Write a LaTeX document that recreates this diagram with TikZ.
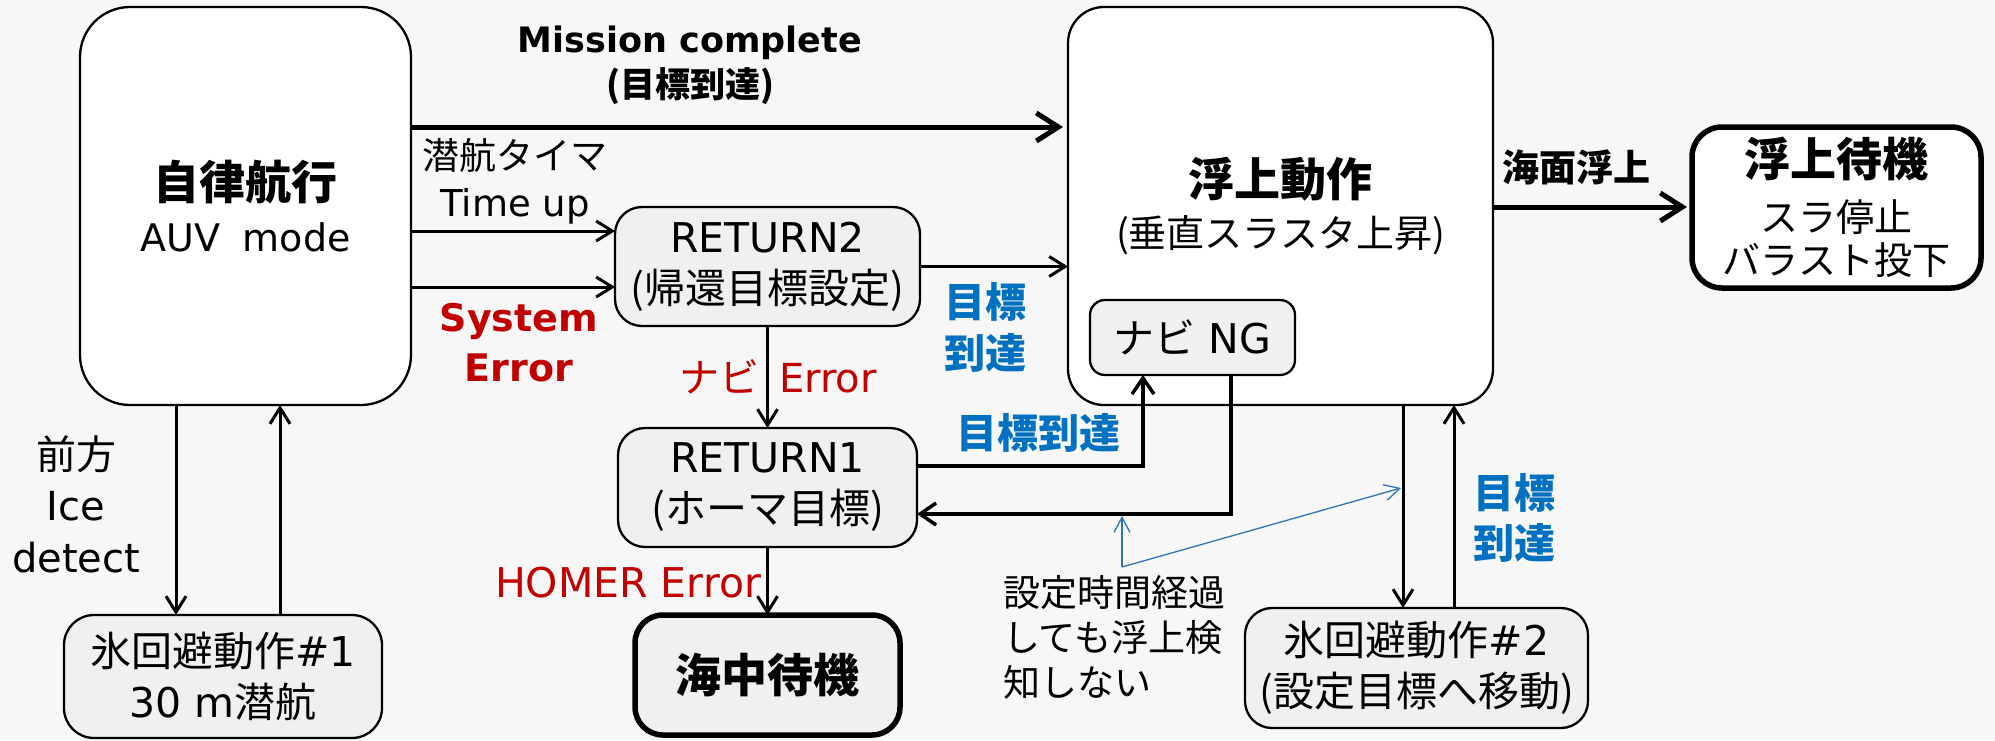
\documentclass[tikz,border=0pt]{standalone}
\usepackage{fontspec}
\setmainfont{DejaVu Sans}
\newfontfamily\jp{Noto Sans CJK JP}
\usetikzlibrary{arrows.meta}
\definecolor{bgcol}{HTML}{F7F7F7}
\definecolor{boxgray}{HTML}{F0F0F0}
\definecolor{errred}{HTML}{C00000}
\definecolor{okblue}{HTML}{0070C0}
\definecolor{noteblue}{HTML}{2E75B6}
\newcommand\fsz[2]{\fontsize{#1pt}{#2pt}\selectfont}
\begin{document}
\begin{tikzpicture}[x=1pt,y=-1pt,
  every node/.style={inner sep=0pt, outer sep=0pt},
  whitebox/.style={draw, line width=2.3pt, fill=white, align=center},
  graybox/.style={draw, line width=2.3pt, fill=boxgray, rounded corners=27pt, align=center, font=\fsz{41}{51}, minimum height=119pt},
  thickbox/.style={draw, line width=5.5pt, align=center},
  lbl/.style={align=center},
  arr/.style={line width=3pt, -{Straight Barb[length=16pt,width=20pt]}},
  medarr/.style={line width=3.5pt, -{Straight Barb[length=16pt,width=22pt]}},
  thickarr/.style={line width=5pt, shorten >=5pt, -{Straight Barb[length=22pt,width=28pt]}},
  notearr/.style={draw=noteblue, line width=1.3pt, -{Straight Barb[length=15pt,width=16pt]}}
]
\fill[bgcol] (0,0) rectangle (1995,740);
\useasboundingbox (0,0) rectangle (1995,740);

% main boxes
\node[whitebox, rounded corners=50pt, minimum width=331pt, minimum height=398pt, font=\fsz{38}{52}] (auto) at (245.5,206)
  {{\jp\fsz{46}{52}\bfseries 自律航行}\\AUV\hspace{0.6em}mode};
\node[whitebox, rounded corners=36pt, minimum width=425pt, minimum height=398pt, font=\jp\fsz{38}{51}] (surf) at (1280.5,206)
  {{\fsz{46}{51}\bfseries 浮上動作}\\(垂直スラスタ上昇)};
\node[thickbox, fill=white, rounded corners=30pt, minimum width=289pt, minimum height=161pt, font=\jp\fsz{38}{43}] (wait) at (1836.5,207.5)
  {{\fsz{46}{43}\bfseries 浮上待機}\\[12pt]スラ停止\\バラスト投下};
\node[graybox, minimum width=305pt] (ret2) at (767.5,266.5) {RETURN2\\{\jp(帰還目標設定)}};
\node[graybox, minimum width=299pt] (ret1) at (767.5,487.5) {RETURN1\\{\jp(ホーマ目標)}};
\node[thickbox, fill=boxgray, rounded corners=28pt, minimum width=265pt, minimum height=120pt, font=\jp\fsz{46}{52}\bfseries] (deep) at (767.5,675) {海中待機};
\node[graybox, rounded corners=15pt, minimum width=205pt, minimum height=75pt] (navi) at (1192.5,337.5) {{\jp ナビ} NG};
\node[graybox, rounded corners=30pt, minimum width=318pt, minimum height=123pt] (ice1) at (223,676.5) {{\jp 氷回避動作}\#1\\30 m{\jp 潜航}};
\node[graybox, minimum width=343pt, minimum height=120pt] (ice2) at (1416.5,668) {{\jp 氷回避動作}\#2\\{\jp(設定目標へ移動)}};

% labels
\node[lbl, font=\fsz{35}{45}\bfseries] (lmc) at (690,65.5) {Mission complete\\{\jp(目標到達)}};
\node[lbl, font=\fsz{37}{47}] (ltu) at (515,181.5) {{\jp 潜航タイマ}\\Time up};
\node[lbl, font=\fsz{38}{50}\bfseries, text=errred] (lse) at (519,343) {System\\Error};
\node[lbl, font=\jp\fsz{41}{51}\bfseries, text=okblue] (lok1) at (985,327.5) {目標\\到達};
\node[lbl, font=\fsz{40}{48}, text=errred] (lne) at (778,377) {{\jp ナビ}\hspace{0.5em}Error};
\node[lbl, font=\jp\fsz{41}{51}\bfseries, text=okblue] (lok2) at (1038,433) {目標到達};
\node[lbl, font=\fsz{41}{48}, text=errred] (lhe) at (628,583) {HOMER Error};
\node[lbl, font=\fsz{40}{51.5}] (lice) at (76,504) {{\jp 前方}\\Ice\\detect};
\node[lbl, font=\jp\fsz{37}{45}\bfseries] (lsea) at (1576,167) {海面浮上};
\node[lbl, font=\jp\fsz{41}{50}\bfseries, text=okblue] (lok3) at (1514,518) {目標\\到達};
\node[lbl, font=\jp\fsz{37}{45}, align=left, anchor=west] (note) at (1003,637) {設定時間経過\\しても浮上検\\知しない};

% connectors
\draw[thickarr] (auto.east |- 0,127) -- (surf.west |- 0,127);
\draw[arr] (auto.east |- 0,231) -- (ret2.west |- 0,231);
\draw[arr] (auto.east |- 0,287) -- (ret2.west |- 0,287);
\draw[arr] (ret2.east) -- (surf.west |- ret2.east);
\draw[arr] (ret2.south) -- (ret1.north);
\draw[arr] (ret1.south) -- (deep.north);
\draw[medarr] (ret1.east |- 0,466) -| (navi.south -| 1143,0);
\draw[medarr] (navi.south -| 1231,0) |- (ret1.east |- 0,514);
\draw[arr] (auto.south -| 176,0) -- (ice1.north -| 176,0);
\draw[arr] (ice1.north -| 280,0) -- (auto.south -| 280,0);
\draw[arr] (surf.south -| 1403,0) -- (ice2.north -| 1403,0);
\draw[arr] (ice2.north -| 1454,0) -- (surf.south -| 1454,0);
\draw[thickarr] (surf.east |- 0,207) -- (wait.west |- 0,207);

% annotation pointers
\coordinate (fork) at (1122,567);
\coordinate (tipA) at (1122,516);
\coordinate (tipB) at (1401,488);
\draw[notearr] (fork) -- (tipA);
\draw[notearr] (fork) -- (tipB);
\end{tikzpicture}
\end{document}
